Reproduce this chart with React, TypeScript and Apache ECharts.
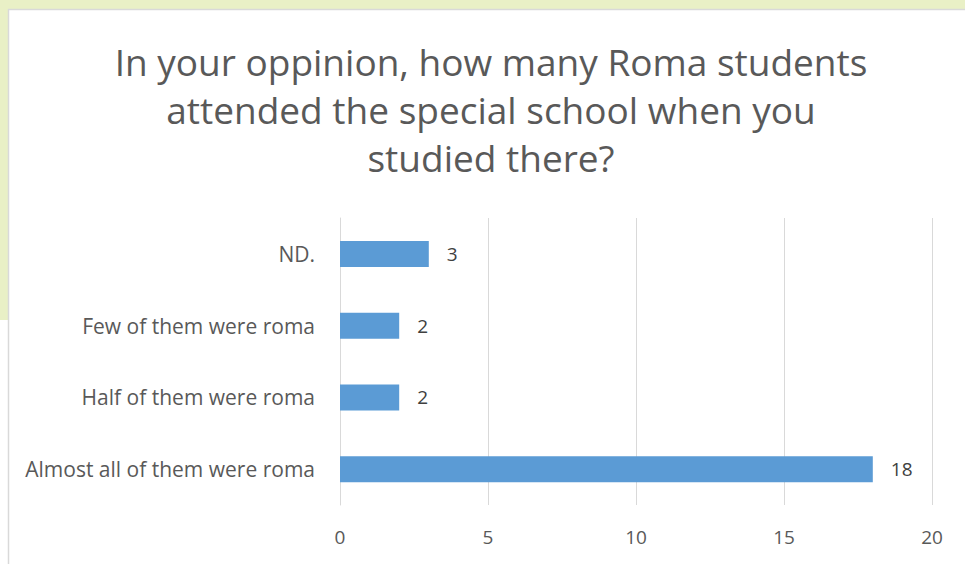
import React, { useEffect, useRef } from "react";
import * as echarts from "echarts";

const titleLines = [
  "In your oppinion, how many Roma students",
  "attended the special school when you",
  "studied there?",
];
// bottom-to-top order on the category axis
const categories = [
  "Almost all of them were roma",
  "Half of them were roma",
  "Few of them were roma",
  "ND.",
];
const counts = [18, 2, 2, 3];
const axisMin = 0;
const axisMax = 20;
const axisStep = 5;

export default function App() {
  const ref = useRef<HTMLDivElement>(null);

  useEffect(() => {
    if (!ref.current) return;
    const chart = echarts.init(ref.current, undefined, { renderer: "svg" });
    const font = "'Open Sans', 'Noto Sans', sans-serif";
    chart.setOption({
      animation: false,
      backgroundColor: "#ffffff",
      graphic: [
        { type: "rect", shape: { x: 0, y: 0, width: 965, height: 9 }, style: { fill: "#E9F0C6" }, z: -10 },
        { type: "rect", shape: { x: 0, y: 0, width: 8, height: 320 }, style: { fill: "#E9F0C6" }, z: -10 },
        { type: "line", shape: { x1: 8.5, y1: 9, x2: 8.5, y2: 564 }, style: { stroke: "#D9D9D9", lineWidth: 1.5 }, z: -5 },
        { type: "line", shape: { x1: 8, y1: 9.5, x2: 965, y2: 9.5 }, style: { stroke: "#D9D9D9", lineWidth: 1.5 }, z: -5 },
      ],
      title: {
        text: titleLines.join("\n"),
        left: 486,
        top: 32,
        textAlign: "center",
        textStyle: {
          fontFamily: font,
          fontSize: 37,
          fontWeight: "normal",
          color: "#595959",
          lineHeight: 48,
        },
      },
      grid: { left: 340, right: 33, top: 218, bottom: 59, containLabel: false },
      xAxis: {
        type: "value",
        min: axisMin,
        max: axisMax,
        interval: axisStep,
        axisLine: { show: false },
        axisTick: { show: false },
        splitLine: { lineStyle: { color: "#D9D9D9", width: 1 } },
        axisLabel: { fontFamily: font, fontSize: 19, color: "#595959", margin: 22 },
      },
      yAxis: {
        type: "category",
        data: categories,
        axisTick: { show: false },
        axisLine: { lineStyle: { color: "#D9D9D9", width: 1 } },
        axisLabel: { fontFamily: font, fontSize: 21, color: "#595959", margin: 25 },
      },
      series: [
        {
          type: "bar",
          data: counts,
          barWidth: 26,
          itemStyle: { color: "#5B9BD5" },
          label: {
            show: true,
            position: "right",
            distance: 18,
            fontFamily: font,
            fontSize: 19,
            color: "#404040",
          },
        },
      ],
    });
    return () => chart.dispose();
  }, []);

  return (
    <div
      ref={ref}
      style={{ position: "fixed", left: 0, top: 0, width: 965, height: 564 }}
    />
  );
}
